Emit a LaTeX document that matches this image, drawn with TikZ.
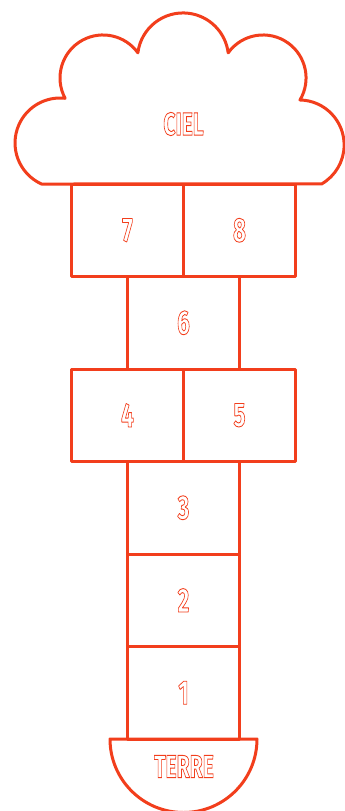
\documentclass[tikz,border=0pt]{standalone}
\usepackage{fontspec}
\setmainfont{Fira Sans}
\definecolor{hop}{RGB}{242,62,28}
\newcommand{\outl}[1]{\special{pdf:literal direct 1 Tr 0.9 w}#1\special{pdf:literal direct 0 Tr}}
\newcommand{\lbl}[1]{\scalebox{0.66}[1]{\bfseries\outl{#1}}}
\begin{document}
\begin{tikzpicture}[x=1pt,y=1pt,
  line/.style={draw=hop, line width=3pt, line join=round},
  cell/.style={line, rectangle, minimum width=112pt, minimum height=92.5pt, inner sep=0pt, font=\fontsize{34}{34}\selectfont, text=hop},
  word/.style={inner sep=0pt, font=\fontsize{32}{32}\selectfont, text=hop}]
\useasboundingbox (0,0) rectangle (345,-811);
% cloud
\draw[line] (41.5,-184)
  arc[start angle=245.7, end angle=83.5, radius=45]
  arc[start angle=208.2, end angle=35.8, radius=43]
  arc[start angle=172.9, end angle=7.1, radius=45.5]
  arc[start angle=144.2, end angle=-30.8, radius=43]
  arc[start angle=88.9, end angle=-60.1, radius=45]
  -- cycle;
\node[word] (ciel) at (183.5,-124) {\lbl{CIEL}};
% cells
\node[cell] (b7) at (127.5,-230.25) {\lbl{7}};
\node[cell] (b8) at (239.5,-230.25) {\lbl{8}};
\node[cell] (b6) at (183.5,-322.75) {\lbl{6}};
\node[cell] (b4) at (127.5,-415.25) {\lbl{4}};
\node[cell] (b5) at (239.5,-415.25) {\lbl{5}};
\node[cell] (b3) at (183.5,-507.75) {\lbl{3}};
\node[cell] (b2) at (183.5,-600.25) {\lbl{2}};
\node[cell] (b1) at (183.5,-692.75) {\lbl{1}};
% earth
\draw[line] (110,-739) arc[start angle=180, end angle=360, radius=73.5] -- cycle;
\node[word] (terre) at (184,-766.5) {\lbl{TERRE}};
\end{tikzpicture}
\end{document}
